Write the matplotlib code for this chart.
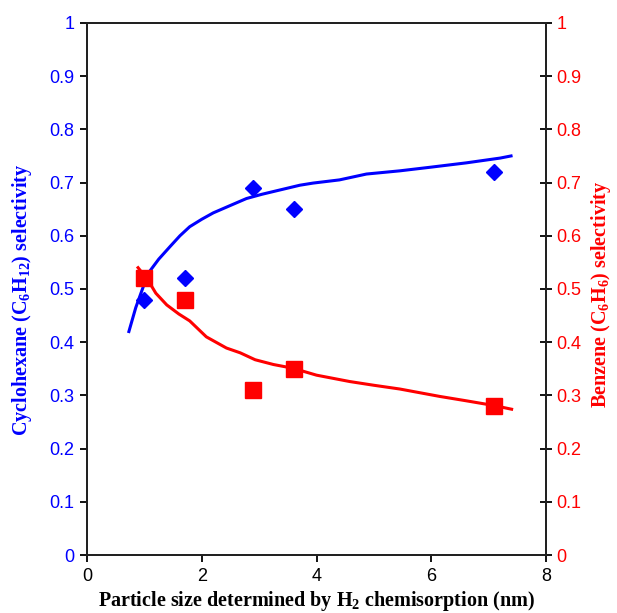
import matplotlib.pyplot as plt

plt.rcParams['font.family'] = ['Liberation Sans', 'DejaVu Sans']
plt.rcParams['mathtext.fontset'] = 'custom'
plt.rcParams['mathtext.rm'] = 'Liberation Serif:bold'
plt.rcParams['mathtext.bf'] = 'Liberation Serif:bold'
plt.rcParams['mathtext.it'] = 'Liberation Serif:bold'

# measured selectivities vs particle size
size_nm = [1.0, 1.7, 2.9, 3.6, 7.1]
cyclohexane = [0.48, 0.52, 0.69, 0.65, 0.72]
benzene = [0.52, 0.48, 0.31, 0.35, 0.28]

# trend lines
fit_c_x = [0.73, 0.85, 0.98, 1.07, 1.25, 1.45, 1.62, 1.79, 2.0, 2.2, 2.5, 2.78, 3.05, 3.36, 3.71, 3.94, 4.4, 4.87, 5.45, 6.0, 6.61, 7.2, 7.39]
fit_c_y = [0.42, 0.465, 0.504, 0.53, 0.556, 0.58, 0.6, 0.617, 0.631, 0.643, 0.657, 0.67, 0.678, 0.686, 0.695, 0.699, 0.705, 0.716, 0.722, 0.729, 0.737, 0.746, 0.75]
fit_b_x = [0.89, 1.06, 1.2, 1.39, 1.6, 1.79, 2.08, 2.43, 2.67, 2.93, 3.25, 3.59, 4.0, 4.58, 5.0, 5.45, 6.15, 6.6, 7.09, 7.4]
fit_b_y = [0.54, 0.517, 0.492, 0.47, 0.453, 0.44, 0.41, 0.389, 0.38, 0.367, 0.358, 0.351, 0.338, 0.326, 0.319, 0.312, 0.298, 0.29, 0.281, 0.274]

blue = '#0000ff'
red = '#ff0000'

fig = plt.figure(figsize=(6.17, 6.13), dpi=100)
ax = fig.add_axes([0.141, 0.0946, 0.744, 0.868])
ax2 = ax.twinx()

ax.plot(fit_c_x, fit_c_y, color=blue, lw=2.2)
ax.plot(size_nm, cyclohexane, 'D', color=blue, ms=8, mec=blue)
ax2.plot(fit_b_x, fit_b_y, color=red, lw=2.2)
ax2.plot(size_nm, benzene, 's', color=red, ms=11, mec=red)

ax.set_xlim(0, 8)
ax.set_ylim(0, 1)
ax2.set_ylim(0, 1)
ax.set_xticks([0, 2, 4, 6, 8])
ticks = [0, 0.1, 0.2, 0.3, 0.4, 0.5, 0.6, 0.7, 0.8, 0.9, 1]
labels = ['0', '0.1', '0.2', '0.3', '0.4', '0.5', '0.6', '0.7', '0.8', '0.9', '1']
ax.set_yticks(ticks, labels)
ax2.set_yticks(ticks, labels)

ax.tick_params(axis='x', direction='out', length=5, width=1.3, labelsize=13, pad=4)
ax.tick_params(axis='y', direction='out', length=5, width=1.3, labelsize=13, labelcolor=blue, pad=4)
ax2.tick_params(axis='y', direction='inout', length=9, width=1.3, labelsize=13, labelcolor=red, pad=3)

for a in (ax, ax2):
    for s in a.spines.values():
        s.set_linewidth(1.4)
        s.set_color('#222222')

ax.set_xlabel(r'Particle size determined by H$_2$ chemisorption (nm)',
              family='Liberation Serif', fontweight='bold', fontsize=14.5, labelpad=3)
ax.set_ylabel(r'Cyclohexane (C$_6$H$_{12}$) selectivity', family='Liberation Serif',
              fontweight='bold', fontsize=14.5, color=blue)
ax2.set_ylabel(r'Benzene (C$_6$H$_6$) selectivity', family='Liberation Serif',
               fontweight='bold', fontsize=14.5, color=red)
ax.yaxis.set_label_coords(-0.116, 0.48)
ax2.yaxis.set_label_coords(1.094, 0.49)

fig.savefig('out.png', dpi=100)
